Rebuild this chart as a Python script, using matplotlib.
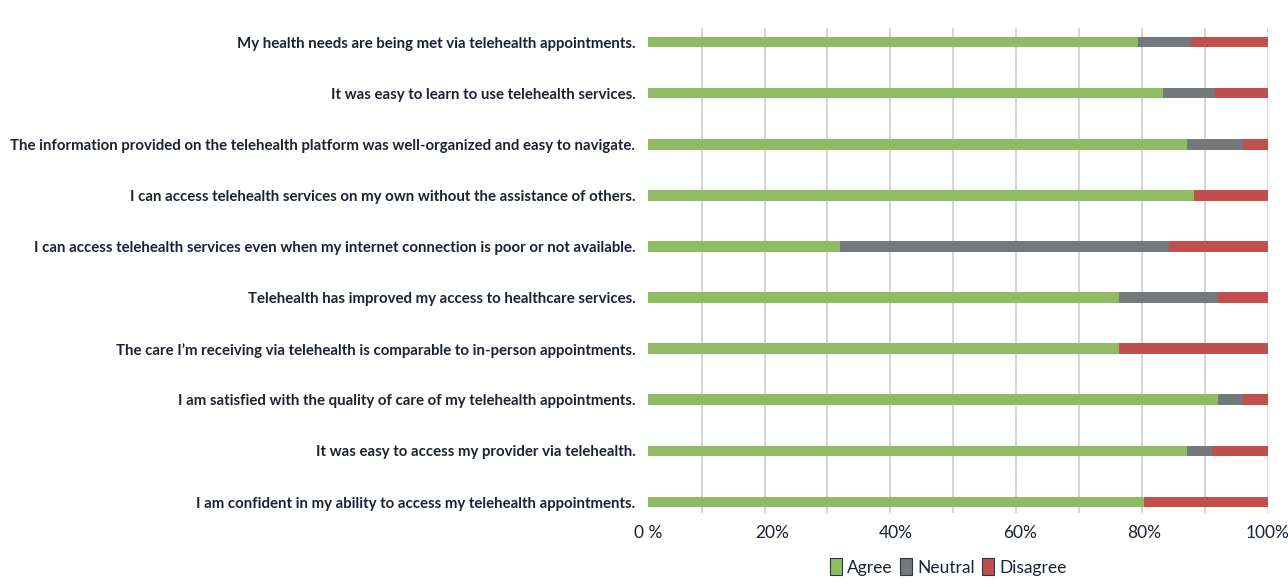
import matplotlib
matplotlib.use("Agg")
import matplotlib.pyplot as plt
from matplotlib.patches import Patch
import numpy as np

questions = [
    "My health needs are being met via telehealth appointments.",
    "It was easy to learn to use telehealth services.",
    "The information provided on the telehealth platform was well-organized and easy to navigate.",
    "I can access telehealth services on my own without the assistance of others.",
    "I can access telehealth services even when my internet connection is poor or not available.",
    "Telehealth has improved my access to healthcare services.",
    "The care I\u2019m receiving via telehealth is comparable to in-person appointments.",
    "I am satisfied with the quality of care of my telehealth appointments.",
    "It was easy to access my provider via telehealth.",
    "I am confident in my ability to access my telehealth appointments.",
]
agree    = [79, 83, 87, 88, 31, 76, 76, 92, 87, 80]
neutral  = [8.5, 8.5, 9, 0, 53, 16, 0, 4, 4, 0]
disagree = [12.5, 8.5, 4, 12, 16, 8, 24, 4, 9, 20]
series_names = ["Agree", "Neutral", "Disagree"]
tick_vals = [0, 20, 40, 60, 80, 100]
tick_labels = ["0 %", "20%", "40%", "60%", "80%", "100%"]

colors = ["#8fbb63", "#75787b", "#c0504d"]
text_color = "#1c2236"

W, H = 1288, 587
fig = plt.figure(figsize=(W / 100, H / 100), dpi=100)
left, right, top, bottom = 648, 1268, 28, 513
ax = fig.add_axes([left / W, 1 - bottom / H, (right - left) / W, (bottom - top) / H])

y = np.arange(len(questions))
a = np.array(agree, float)
n = np.array(neutral, float)
d = np.array(disagree, float)
bh = 0.21
ax.barh(y, a, height=bh, color=colors[0], zorder=3)
ax.barh(y, n, left=a, height=bh, color=colors[1], zorder=3)
ax.barh(y, d, left=a + n, height=bh, color=colors[2], zorder=3)

ax.set_xlim(0, 100)
ax.set_ylim(9.215, -0.274)
ax.set_xticks(tick_vals)
ax.set_xticklabels(tick_labels, fontsize=12.5, color=text_color, family="Lato")
ax.tick_params(axis="x", which="both", length=0, pad=9)
# vertical gridlines (the source grid is slightly offset from the tick labels)
for k in range(10):
    ax.axvline(100 - 10.15 * k, color="#d4d4d4", linewidth=1.4, zorder=0)
ax.set_yticks(y)
ax.set_yticklabels(questions, fontsize=10.8, fontweight="bold", color=text_color, family="Lato")
ax.tick_params(axis="y", length=0, pad=9)
for s in ax.spines.values():
    s.set_visible(False)

handles = [Patch(facecolor=c, edgecolor="#2a3550", linewidth=0.8, label=l) for c, l in zip(colors, series_names)]
fig.legend(handles=handles, loc="center", bbox_to_anchor=(948 / W, 1 - 567 / H), ncol=3, frameon=False,
           prop={"family": "Lato", "size": 12.5}, handlelength=0.7, handleheight=1.1, handletextpad=0.3,
           columnspacing=0.4, labelcolor=text_color)

fig.savefig("out.png", dpi=100)
